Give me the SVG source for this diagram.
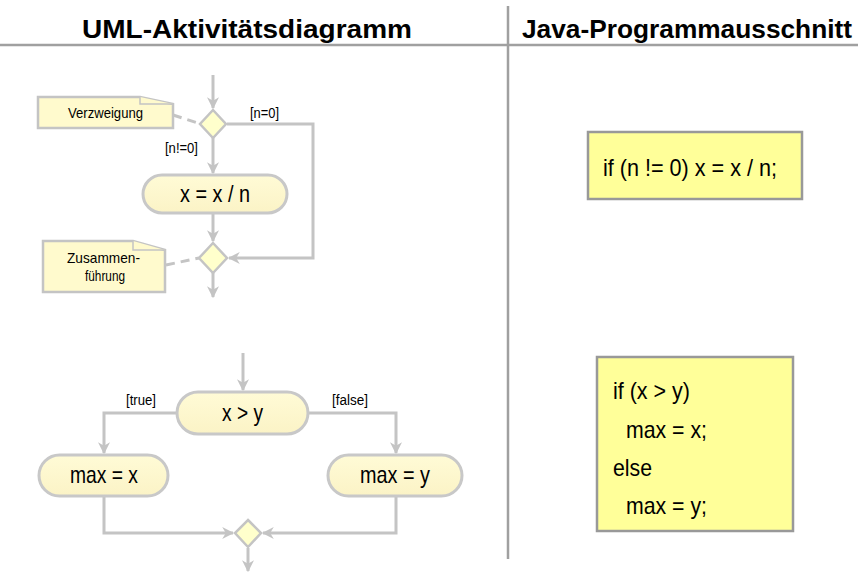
<svg xmlns="http://www.w3.org/2000/svg" width="858" height="574" viewBox="0 0 858 574">
  <defs>
    <marker id="arr" viewBox="0 0 10 10" refX="9" refY="5" markerWidth="4" markerHeight="4" orient="auto" markerUnits="strokeWidth">
      <path d="M0,0 L10,5 L0,10 L3,5 Z" fill="#c4c4c4"/>
    </marker>
    <linearGradient id="act" x1="0" y1="0" x2="0" y2="1">
      <stop offset="0" stop-color="#fffbd6"/>
      <stop offset="1" stop-color="#fbf3c6"/>
    </linearGradient>
  </defs>
  <style>
    .t { font-family: "Liberation Sans", Arial, sans-serif; fill: #000; }
    .head { font-size: 26px; font-weight: bold; }
    .act { fill: url(#act); stroke: #c8c8c8; stroke-width: 3; }
    .dec { fill: #ffffcc; stroke: #c4c4c4; stroke-width: 2.5; }
    .note { fill: #fffacd; stroke: #c4c4c4; stroke-width: 2.5; }
    .code { fill: #ffff99; stroke: #999; stroke-width: 2.5; }
    .flow { fill: none; stroke: #c4c4c4; stroke-width: 3; }
    .dash { fill: none; stroke: #c4c4c4; stroke-width: 3; stroke-dasharray: 9 6; }
    .rule { stroke: #a0a0a0; stroke-width: 2.5; }
    .lbl { font-size: 24px; }
    .small { font-size: 15px; }
    .guard { font-size: 14px; }
    .src { font-size: 24px; }
  </style>

  <!-- headings and dividers -->
  <g id="headings">
    <text class="t head" x="82" y="38" textLength="330" lengthAdjust="spacingAndGlyphs">UML-Aktivitätsdiagramm</text>
    <text class="t head" x="522" y="38" textLength="330" lengthAdjust="spacingAndGlyphs">Java-Programmausschnitt</text>
    <line class="rule" x1="0" y1="45" x2="858" y2="45"/>
    <line class="rule" x1="508" y1="6" x2="508" y2="559"/>
  </g>

  <!-- connectors -->
  <g id="connectors">
    <!-- if without else -->
    <line class="flow" x1="213" y1="75" x2="213" y2="108" marker-end="url(#arr)"/>
    <line class="flow" x1="213" y1="138" x2="213" y2="173" marker-end="url(#arr)"/>
    <polyline class="flow" points="227,124 313,124 313,258 229,258" marker-end="url(#arr)"/>
    <line class="flow" x1="213" y1="214" x2="213" y2="241" marker-end="url(#arr)"/>
    <line class="flow" x1="213" y1="273" x2="213" y2="297" marker-end="url(#arr)"/>
    <line class="dash" x1="173" y1="115" x2="201" y2="124"/>
    <line class="dash" x1="166" y1="265" x2="199" y2="258"/>
    <!-- if with else -->
    <line class="flow" x1="243" y1="353" x2="243" y2="390" marker-end="url(#arr)"/>
    <polyline class="flow" points="177,413 104,413 104,453" marker-end="url(#arr)"/>
    <polyline class="flow" points="308,413 396,413 396,453" marker-end="url(#arr)"/>
    <polyline class="flow" points="104,497 104,533 233,533" marker-end="url(#arr)"/>
    <polyline class="flow" points="396,497 396,533 263,533" marker-end="url(#arr)"/>
    <line class="flow" x1="248" y1="548" x2="248" y2="571" marker-end="url(#arr)"/>
  </g>

  <!-- guards -->
  <g id="guards">
    <text class="t guard" x="250" y="118" textLength="29" lengthAdjust="spacingAndGlyphs">[n=0]</text>
    <text class="t guard" x="165" y="153" textLength="33" lengthAdjust="spacingAndGlyphs">[n!=0]</text>
    <text class="t guard" x="126" y="405" textLength="30" lengthAdjust="spacingAndGlyphs">[true]</text>
    <text class="t guard" x="332" y="405" textLength="36" lengthAdjust="spacingAndGlyphs">[false]</text>
  </g>

  <g id="decision1">
    <polygon class="dec" points="213,110 226,124 213,138 200,124"/>
  </g>
  <g id="note-verzweigung">
    <path class="note" d="M38,97 L140,97 L173,104 L173,128 L38,128 Z"/>
    <path d="M140,97 L140,104 L173,104" fill="#fffacd" stroke="#c4c4c4" stroke-width="1.5"/>
    <text class="t small" x="68" y="118" textLength="75" lengthAdjust="spacingAndGlyphs">Verzweigung</text>
  </g>
  <g id="action-divide">
    <rect class="act" x="143" y="175" width="144" height="38" rx="19"/>
    <text class="t lbl" x="180" y="202" textLength="70" lengthAdjust="spacingAndGlyphs">x = x / n</text>
  </g>
  <g id="merge1">
    <polygon class="dec" points="213,243 227,258 213,273 199,258"/>
  </g>
  <g id="note-zusammenfuehrung">
    <path class="note" d="M43,241 L133,241 L165,250 L165,292 L43,292 Z"/>
    <path d="M133,241 L133,250 L165,250" fill="#fffacd" stroke="#c4c4c4" stroke-width="1.5"/>
    <text class="t small" x="67" y="263" textLength="73" lengthAdjust="spacingAndGlyphs">Zusammen-</text>
    <text class="t small" x="85" y="281" textLength="40" lengthAdjust="spacingAndGlyphs">führung</text>
  </g>

  <g id="action-compare">
    <rect class="act" x="177" y="392" width="131" height="42" rx="21"/>
    <text class="t lbl" x="222" y="421" textLength="41" lengthAdjust="spacingAndGlyphs">x &gt; y</text>
  </g>
  <g id="action-max-x">
    <rect class="act" x="39" y="455" width="129" height="41" rx="20.5"/>
    <text class="t lbl" x="70" y="483" textLength="68" lengthAdjust="spacingAndGlyphs">max = x</text>
  </g>
  <g id="action-max-y">
    <rect class="act" x="328" y="455" width="134" height="41" rx="20.5"/>
    <text class="t lbl" x="360" y="483" textLength="70" lengthAdjust="spacingAndGlyphs">max = y</text>
  </g>
  <g id="merge2">
    <polygon class="dec" points="248,520 261,533 248,547 235,533"/>
  </g>

  <g id="code-if">
    <rect class="code" x="588" y="132" width="214" height="67"/>
    <text class="t src" x="603" y="176" textLength="174" lengthAdjust="spacingAndGlyphs">if (n != 0) x = x / n;</text>
  </g>
  <g id="code-if-else">
    <rect class="code" x="597" y="357" width="196" height="174"/>
    <text class="t src" x="613" y="399" textLength="77" lengthAdjust="spacingAndGlyphs">if (x &gt; y)</text>
    <text class="t src" x="626" y="438" textLength="81" lengthAdjust="spacingAndGlyphs">max = x;</text>
    <text class="t src" x="613" y="476" textLength="39" lengthAdjust="spacingAndGlyphs">else</text>
    <text class="t src" x="626" y="514" textLength="81" lengthAdjust="spacingAndGlyphs">max = y;</text>
  </g>
</svg>
